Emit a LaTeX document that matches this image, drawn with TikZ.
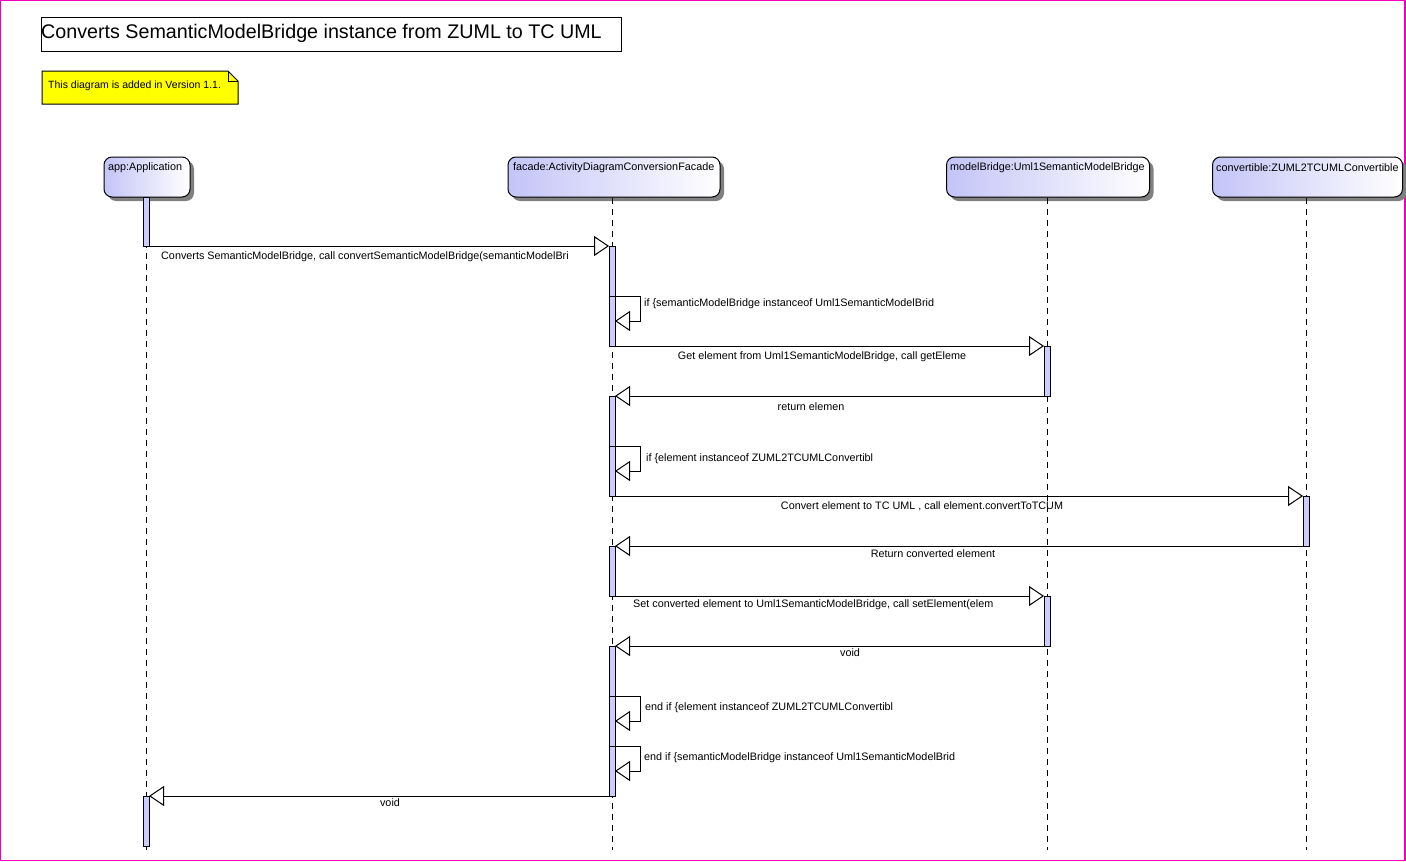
\documentclass[tikz,border=0pt]{standalone}
\usepackage{fontspec}
\setmainfont{Liberation Sans}
\usetikzlibrary{arrows.meta,shadows}

\definecolor{headblue}{RGB}{196,196,248}
\definecolor{barblue}{RGB}{204,204,255}
\definecolor{pageframe}{RGB}{240,0,190}
\definecolor{noteyellow}{RGB}{255,255,0}

\tikzset{
  head/.style={draw, line width=1pt, rounded corners=8pt, anchor=north west,
    minimum height=40pt, inner sep=0pt,
    left color=headblue, right color=white,
    drop shadow={shadow xshift=4pt, shadow yshift=-4pt, fill=black!50, opacity=1}},
  headtext/.style={anchor=west, inner sep=0pt, font=\fontsize{10.8}{13}\selectfont},
  life/.style={line width=1pt, dash pattern=on 6pt off 5pt},
  actbar/.style={draw, line width=1pt, fill=barblue, anchor=north,
    minimum width=6pt, inner sep=0pt, outer sep=0pt},
  msg/.style={line width=1pt, -{Triangle[length=15pt, width=20pt, fill=white]}},
  msgtext/.style={inner sep=0pt, font=\fontsize{10.8}{13}\selectfont},
}

\begin{document}
\begin{tikzpicture}[x=1pt, y=-1pt]
\useasboundingbox (0,0) rectangle (1406,862);
\draw[pageframe, line width=1.2pt] (0.8,0.8) rectangle (1405,860.6);

% title and note
\node[draw, line width=1pt, anchor=north west, minimum width=580pt,
  minimum height=34pt, inner sep=0pt] (titlebox) at (40.5,16.5) {};
\node[anchor=west, inner sep=0pt, font=\fontsize{19.7}{24}\selectfont]
  (titletext) at (41,33.5) {Converts SemanticModelBridge instance from ZUML to TC UML};

\draw[line width=1pt, fill=noteyellow]
  (42,71) -- (228,71) -- (238,81) -- (238,104) -- (42,104) -- cycle;
\draw[line width=0.8pt] (228,71) -- (228,81) -- (238,81);
\node[anchor=west, inner sep=0pt, font=\fontsize{10.5}{12}\selectfont]
  (notetext) at (48,86) {This diagram is added in Version 1.1.};

% lifeline heads
\node[head, minimum width=86pt]  (app)  at (103.5,156.5) {};
\node[head, minimum width=212pt] (fac)  at (507.5,156.5) {};
\node[head, minimum width=203pt] (mb)   at (946,156.5) {};
\node[head, minimum width=190pt] (conv) at (1212,156.5) {};
\node[headtext] (appT)  at (108,167.5)  {app:Application};
\node[headtext] (facT)  at (513,167.5)  {facade:ActivityDiagramConversionFacade};
\node[headtext] (mbT)   at (950,167.5)  {modelBridge:Uml1SemanticModelBridge};
\node[headtext] (convT) at (1216,167.5) {convertible:ZUML2TCUMLConvertible};

% lifelines
\coordinate (appEnd)  at (146,850);
\coordinate (facEnd)  at (612,850);
\coordinate (mbEnd)   at (1047,850);
\coordinate (convEnd) at (1306,850);
\draw[life] (appEnd |- app.south) -- (appEnd);
\draw[life] (facEnd |- fac.south) -- (facEnd);
\draw[life] (mbEnd |- mb.south) -- (mbEnd);
\draw[life] (convEnd |- conv.south) -- (convEnd);

% activation bars
\node[actbar, minimum height=49pt] (appA)  at (146,197) {};
\node[actbar, minimum height=50pt] (facA)  at (612,246) {};
\node[actbar, minimum height=50pt] (facA2) at (612,296) {};
\node[actbar, minimum height=50pt] (mbA)   at (1047,346) {};
\node[actbar, minimum height=50pt] (facB)  at (612,396) {};
\node[actbar, minimum height=50pt] (facB2) at (612,446) {};
\node[actbar, minimum height=50pt] (convA) at (1306,496) {};
\node[actbar, minimum height=50pt] (facC)  at (612,546) {};
\node[actbar, minimum height=50pt] (mbB)   at (1047,596) {};
\node[actbar, minimum height=50pt] (facD)  at (612,646) {};
\node[actbar, minimum height=50pt] (facD2) at (612,696) {};
\node[actbar, minimum height=50pt] (facD3) at (612,746) {};
\node[actbar, minimum height=50pt] (appB)  at (146,796) {};

% messages
\draw[msg] (appA.south east) -- (facA.north west);
\draw[msg] (facA2.north east) -- ++(25,0) |- (facA2.east);
\draw[msg] (facA2.south east) -- (mbA.north west);
\draw[msg] (mbA.south west) -- (facB.north east);
\draw[msg] (facB2.north east) -- ++(25,0) |- (facB2.east);
\draw[msg] (facB2.south east) -- (convA.north west);
\draw[msg] (convA.south west) -- (facC.north east);
\draw[msg] (facC.south east) -- (mbB.north west);
\draw[msg] (mbB.south west) -- (facD.north east);
\draw[msg] (facD2.north east) -- ++(25,0) |- (facD2.east);
\draw[msg] (facD3.north east) -- ++(25,0) |- (facD3.east);
\draw[msg] (facD3.south west) -- (appB.north east);

% message labels
\node[msgtext, anchor=west] (m1) at (161,256.5)
  {Converts SemanticModelBridge, call convertSemanticModelBridge(semanticModelBri};
\node[msgtext, anchor=west] (m2) at (644,303.5)
  {if \{semanticModelBridge instanceof Uml1SemanticModelBrid};
\node[msgtext] (m3) at (822,356.5)
  {Get element from Uml1SemanticModelBridge, call getEleme};
\node[msgtext] (m4) at (811,406.5) {return elemen};
\node[msgtext, anchor=west] (m5) at (646,458.5)
  {if \{element instanceof ZUML2TCUMLConvertibl};
\node[msgtext] (m6) at (922,506.5)
  {Convert element to TC UML , call element.convertToTCUM};
\node[msgtext] (m7) at (933,553.5) {Return converted element};
\node[msgtext, anchor=west] (m8) at (633,605)
  {Set converted element to Uml1SemanticModelBridge, call setElement(elem};
\node[msgtext] (m9) at (850,652.5) {void};
\node[msgtext, anchor=west] (m10) at (645,707.5)
  {end if \{element instanceof ZUML2TCUMLConvertibl};
\node[msgtext, anchor=west] (m11) at (644,757.5)
  {end if \{semanticModelBridge instanceof Uml1SemanticModelBrid};
\node[msgtext] (m12) at (390,802.5) {void};
\end{tikzpicture}
\end{document}
